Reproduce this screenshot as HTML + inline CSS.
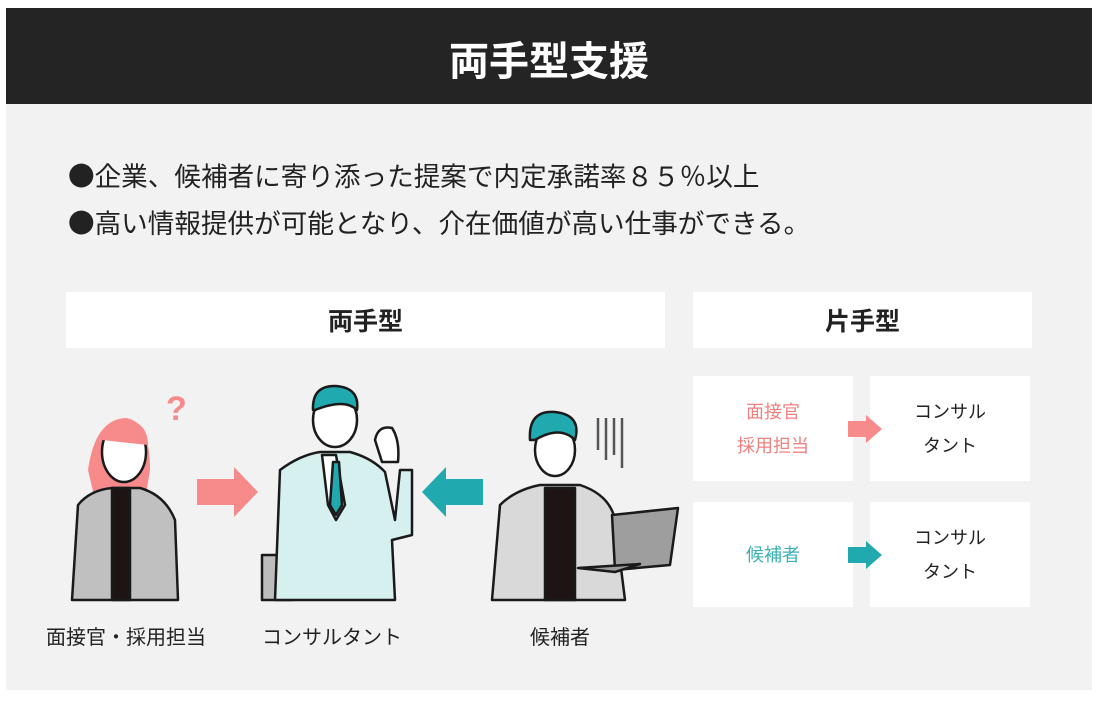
<!DOCTYPE html>
<html><head><meta charset="utf-8"><style>
*{margin:0;padding:0;box-sizing:border-box}
body{width:1104px;height:704px;background:#fff;position:relative;overflow:hidden;font-family:"Liberation Sans","Noto Sans CJK JP",sans-serif;color:#222}
.hd{position:absolute;left:6px;top:8px;width:1086px;height:96px;background:#242424;color:#fff;font-size:40px;font-weight:bold;text-align:center;line-height:100px;font-family:"Noto Sans CJK JP",sans-serif}
.pn{position:absolute;left:6px;top:104px;width:1086px;height:586px;background:#f2f2f2}
.b{position:absolute;left:68px;font-size:26.6px;color:#222;font-family:"Noto Sans CJK JP",sans-serif;line-height:34px}
.w{position:absolute;background:#fff;text-align:center}
.t{font-size:25px;font-weight:bold;line-height:56px;font-family:"Noto Sans CJK JP",sans-serif}
.s{font-size:18px;line-height:34px;display:flex;align-items:center;justify-content:center}
.lb{position:absolute;font-size:20px;top:621px}
</style></head><body>
<div class="hd">両手型支援</div>
<div class="pn"></div>
<div class="b" style="top:158px">●企業、候補者に寄り添った提案で内定承諾率８５％以上</div>
<div class="b" style="top:205px">●高い情報提供が可能となり、介在価値が高い仕事ができる。</div>
<div class="w t" style="left:66px;top:292px;width:599px;height:56px">両手型</div>
<div class="w t" style="left:693px;top:292px;width:339px;height:56px">片手型</div>
<div class="w s" style="left:693px;top:376px;width:160px;height:105px;color:#f08080">面接官<br>採用担当</div>
<div class="w s" style="left:870px;top:376px;width:160px;height:105px">コンサル<br>タント</div>
<div class="w s" style="left:693px;top:502px;width:160px;height:105px;color:#3bb0b3">候補者</div>
<div class="w s" style="left:870px;top:502px;width:160px;height:105px">コンサル<br>タント</div>
<svg style="position:absolute;left:0;top:0" width="1104" height="704">
<polygon points="848,421 866,421 866,415 882,429 866,443 866,437 848,437" fill="#f78a8a"/>
<polygon points="848,547 866,547 866,541 882,555 866,569 866,563 848,563" fill="#20aab0"/>
<polygon points="197,479 234,479 234,467 258,492 234,517 234,505 197,505" fill="#f78a8a"/>
<polygon points="483,479 446,479 446,467 422,492 446,517 446,505 483,505" fill="#20aab0"/>
<g stroke="#1a1a1a" stroke-width="2.5" stroke-linejoin="round">
<path d="M88,470 Q95,420 125,418 Q150,420 150,470 L145,500 L95,500Z" fill="#f78a8a" stroke="none"/>
<path d="M72,600 L78,505 Q90,490 112,488 L140,488 Q165,495 175,520 L178,600Z" fill="#c0c0c0"/>
<rect x="112" y="488" width="18" height="112" fill="#1e1414"/>
<ellipse cx="124" cy="452" rx="22" ry="30" fill="#fff"/>
<path d="M102,440 Q110,418 130,420 Q148,425 148,445" fill="#f78a8a" stroke="none"/>
<text x="166" y="420" font-size="34" font-weight="bold" fill="#f78a8a" stroke="none">?</text>
<rect x="262" y="555" width="30" height="45" fill="#bdbdbd"/>
<path d="M275,600 L280,470 Q300,455 320,452 L350,452 Q372,458 385,472 L395,520 L400,470 L412,470 L412,535 L392,540 L395,600Z" fill="#d6efef"/>
<path d="M322,455 L336,455 L345,505 L336,520 L328,505Z" fill="#fff"/>
<path d="M333,462 L339,462 L342,505 L336,515 L330,505Z" fill="#20aab0"/>
<ellipse cx="335" cy="420" rx="22" ry="27" fill="#fff"/>
<path d="M313,410 Q312,385 336,386 Q360,388 357,410 Q345,398 315,410Z" fill="#20aab0"/>
<path d="M375,440 Q378,425 392,428 Q400,440 398,462 L382,462Z" fill="#fff"/>
<path d="M492,600 L500,505 Q515,490 540,485 L580,485 Q610,495 615,520 L625,600Z" fill="#d9d9d9"/>
<rect x="545" y="488" width="30" height="112" fill="#1e1414"/>
<ellipse cx="555" cy="450" rx="20" ry="26" fill="#fff"/>
<path d="M530,440 Q528,410 555,412 Q582,415 575,440 Q560,425 535,440Z" fill="#20aab0"/>
<path d="M612,515 L678,508 L670,565 L615,570Z" fill="#9e9e9e"/>
<path d="M578,568 L640,564 L615,572Z" fill="#9e9e9e"/>
</g>
<g stroke="#555" stroke-width="2.5"><line x1="598" y1="418" x2="598" y2="450"/><line x1="606" y1="418" x2="606" y2="460"/><line x1="614" y1="418" x2="614" y2="455"/><line x1="622" y1="418" x2="622" y2="468"/></g>
</svg>
<div class="lb" style="left:46px">面接官・採用担当</div>
<div class="lb" style="left:262px">コンサルタント</div>
<div class="lb" style="left:530px">候補者</div>
</body></html>
